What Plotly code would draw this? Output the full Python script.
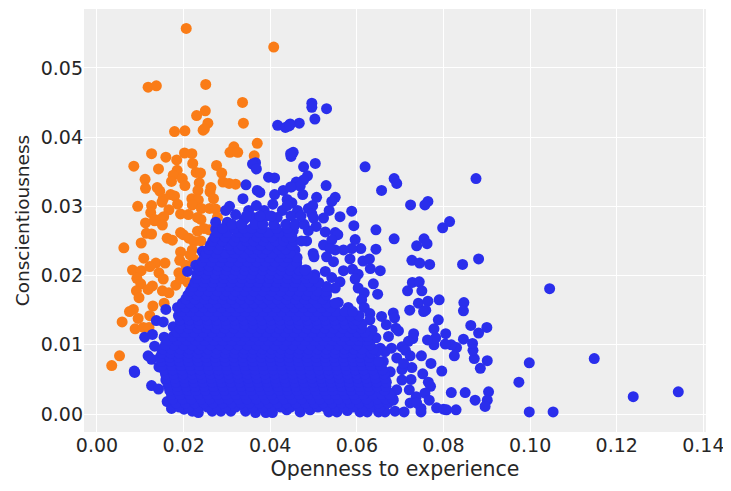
import plotly.graph_objects as go

orange_points = [
(.0206,.0557),(.0408,.0530),(.0118,.0472),(.0137,.0474),(.0251,.0476),(.0336,.0450),(.0250,.0438),(.0230,.0431),
(.0256,.0420),(.0245,.0410),(.0248,.0412),(.0338,.0420),(.0179,.0408),(.0203,.0409),(.0370,.0391),(.0316,.0386),(.0307,.0378),
(.0325,.0378),(.0363,.0373),(.0126,.0376),(.0159,.0371),(.0202,.0377),(.0219,.0376),(.0184,.0367),(.0221,.0362),
(.0085,.0358),(.0142,.0354),(.0185,.0352),(.0276,.0359),(.0288,.0348),(.0176,.0345),(.0172,.0336),(.0197,.0340),
(.0203,.0330),(.0229,.0349),(.0239,.0348),(.0236,.0334),(.0233,.0323),(.0111,.0339),(.0112,.0326),(.0139,.0327),
(.0145,.0322),(.0291,.0335),(.0305,.0333),(.0320,.0332),(.0263,.0327),(.0261,.0321),(.0269,.0311),(.0094,.0300),
(.0126,.0301),(.0124,.0291),(.0170,.0317),(.0179,.0315),(.0153,.0311),(.0150,.0306),(.0186,.0303),(.0166,.0295),
(.0219,.0311),(.0234,.0309),(.0220,.0302),(.0241,.0297),(.0260,.0297),(.0274,.0296),(.0193,.0289),(.0211,.0288),
(.0232,.0284),(.0240,.0281),(.0278,.0284),(.0154,.0285),(.0133,.0281),(.0146,.0281),(.0112,.0276),(.0133,.0279),
(.0151,.0273),(.0114,.0261),(.0126,.0260),(.0102,.0247),(.0062,.0240),(.0162,.0254),(.0174,.0251),(.0193,.0262),
(.0199,.0259),(.0212,.0254),(.0232,.0264),(.0247,.0268),(.0259,.0266),(.0224,.0249),(.0220,.0237),(.0193,.0234),
(.0191,.0222),(.0223,.0224),(.0108,.0225),(.0136,.0218),(.0157,.0218),(.0082,.0208),(.0102,.0207),(.0122,.0213),
(.0143,.0204),(.0153,.0195),(.0092,.0196),(.0101,.0188),(.0128,.0185),(.0118,.0180),(.0091,.0178),(.0097,.0168),
(.0151,.0178),(.0166,.0175),(.0182,.0186),(.0189,.0204),(.0197,.0203),(.0193,.0195),(.0155,.0160),(.0129,.0156),
(.0084,.0151),(.0075,.0148),(.0122,.0142),(.0095,.0138),(.0058,.0133),(.0088,.0123),(.0107,.0125),(.0052,.0084),
(.0034,.0070),(.0205,.0215),(.0215,.0230),(.0240,.0250),(.0210,.0190),(.0120,.0125),
]

blue_edge_points = [
(.0087,.0060),(.0086,.0062),(.0110,.0111),(.0128,.0115),(.0137,.0135),(.0153,.0133),(.0176,.0126),(.0118,.0084),(.0126,.0079),
(.0133,.0098),(.0155,.0111),(.0126,.0041),(.0142,.0036),(.0162,.0018),(.0172,.0008),(.0201,.0007),(.0220,.0004),(.0234,.0002),
(.0266,.0004),(.0286,.0004),(.0309,.0004),(.0343,.0004),(.0366,.0002),(.0390,.0002),(.0405,.0002),(.0438,.0006),(.0159,.0151),
(.0159,.0049),(.0143,.0068),(.0155,.0078),(.0274,.0267),(.0243,.0235),(.0228,.0215),(.0209,.0206),
(.0496,.0449),(.0496,.0443),(.0530,.0441),(.0503,.0426),(.0467,.0420),(.0446,.0419),(.0442,.0416),(.0453,.0378),(.0448,.0372),
(.0477,.0357),(.0504,.0362),(.0619,.0357),(.0486,.0344),(.0477,.0338),(.0460,.0335),(.0469,.0329),(.0449,.0328),(.0529,.0330),
(.0475,.0317),(.0507,.0313),(.0550,.0313),(.0542,.0307),(.0450,.0305),(.0463,.0294),(.0488,.0297),(.0498,.0301),(.0536,.0294),
(.0588,.0293),(.0561,.0285),(.0523,.0283),(.0496,.0289),(.0500,.0283),(.0506,.0271),(.0593,.0272),(.0644,.0266),(.0686,.0340),
(.0692,.0333),(.0657,.0323),(.0875,.0340),(.0724,.0302),(.0764,.0307),(.0757,.0302),(.0814,.0278),(.0798,.0269),
(.0453,.0265),(.0488,.0265),(.0527,.0263),(.0550,.0262),(.0556,.0259),(.0484,.0250),(.0596,.0252),(.0686,.0253),(.0523,.0244),
(.0542,.0251),(.0644,.0238),(.0609,.0239),(.0588,.0239),(.0569,.0237),(.0550,.0237),(.0538,.0239),(.0457,.0237),(.0453,.0232),
(.0499,.0232),(.0501,.0227),(.0530,.0227),(.0584,.0224),(.0614,.0221),(.0629,.0224),(.0631,.0210),(.0654,.0207),(.0546,.0220),
(.0569,.0207),(.0590,.0209),(.0603,.0202),(.0596,.0195),(.0461,.0218),(.0483,.0208),(.0477,.0195),(.0503,.0201),(.0527,.0206),
(.0542,.0197),(.0561,.0191),(.0550,.0182),(.0638,.0188),(.0603,.0182),(.0617,.0175),(.0648,.0173),(.0611,.0165),(.0557,.0161),
(.0580,.0154),(.0617,.0154),(.0630,.0145),(.0630,.0136),(.0657,.0141),(.0684,.0146),(.0687,.0139),(.0668,.0129),(.0690,.0124),
(.0696,.0120),(.0644,.0110),(.0673,.0112),(.0731,.0116),(.0729,.0109),(.0719,.0105),(.0704,.0097),(.0712,.0092),(.0723,.0084),
(.0749,.0084),(.0771,.0073),(.0796,.0062),(.0752,.0058),(.0727,.0067),(.0704,.0064),(.0725,.0050),(.0765,.0046),(.0770,.0040),
(.0721,.0035),(.0757,.0030),(.0737,.0025),(.0767,.0020),(.0723,.0016),(.0738,.0016),(.0748,.0008),(.0748,.0003),(.0784,.0009),
(.0800,.0007),(.0807,.0006),(.0829,.0006),(.0818,.0031),(.0850,.0031),(.0873,.0020),(.0904,.0032),(.0901,.0020),(.0896,.0011),
(.0885,.0066),(.0901,.0077),(.0871,.0080),(.0868,.0092),(.0867,.0102),(.0846,.0108),(.0830,.0096),(.0818,.0100),(.0804,.0101),
(.0825,.0084),(.0778,.0100),(.0782,.0110),(.0763,.0107),(.0778,.0123),(.0805,.0116),(.0788,.0136),(.0863,.0128),(.0900,.0125),
(.0881,.0117),(.0722,.0150),(.0742,.0160),(.0764,.0163),(.0759,.0150),(.0754,.0148),(.0790,.0165),(.0847,.0161),(.0846,.0149),
(.0717,.0178),(.0728,.0190),(.0744,.0191),(.0750,.0178),(.0727,.0222),(.0745,.0218),(.0768,.0216),(.0844,.0216),(.0881,.0224),
(.0738,.0243),(.0755,.0253),(.0762,.0246),
(.1238,.0025),(.1342,.0032),(.0998,.0003),(.1053,.0003),(.0974,.0046),(.0998,.0074),(.1045,.0181),(.1148,.0080),
(.0688,.0004),(.0709,.0003),(.0578,.0005),(.0607,.0003),(.0624,.0003),(.0650,.0003),(.0665,.0003),(.0469,.0003),(.0492,.0006),
(.0535,.0003),(.0554,.0003),(.0684,.0020),(.0692,.0035),(.0704,.0049),(.0677,.0061),(.0661,.0054),(.0657,.0028),(.0677,.0030),
(.0631,.0030),(.0607,.0018),(.0631,.0018),(.0657,.0013),(.0637,.0076),(.0615,.0064),(.0627,.0088),(.0654,.0095),(.0665,.0090),
(.0680,.0095),(.0661,.0076),(.0692,.0081),(.0708,.0073),(.0646,.0090),(.0619,.0095),(.0635,.0121),
(.0417,.0417),(.0435,.0414),(.0445,.0417),(.0366,.0363),(.0359,.0361),(.0368,.0354),(.0447,.0376),(.0396,.0342),(.0410,.0341),
(.0344,.0331),(.0370,.0323),(.0376,.0320),(.0410,.0317),(.0430,.0323),(.0447,.0328),(.0337,.0311),(.0406,.0303),(.0439,.0310),
(.0306,.0300),(.0297,.0294),(.0320,.0288),(.0350,.0294),(.0368,.0301),(.0386,.0294),(.0428,.0294),(.0439,.0301),(.0416,.0284),
(.0359,.0284),(.0390,.0286),(.0340,.0281),(.0301,.0277),(.0274,.0277),
]

blue_core_y = [.0010,.0016,.0022,.0028,.0034,.0040,.0046,.0052,.0058,.0064,.0070,.0076,.0082,.0088,.0094,.0100,.0106,.0112,.0118,.0124,
               .0130,.0136,.0142,.0148,.0154,.0160,.0166,.0172,.0178,.0184,.0190,.0196,.0202,.0208,.0214,.0220,.0226,.0232,.0238,.0244,.0250,.0256,.0262,.0268,.0274,.0286]
blue_core_x = [
[.0190,.0212,.0236,.0255,.0278,.0297,.0320,.0341,.0360,.0383,.0405,.0424,.0447,.0466,.0489,.0510,.0528,.0551,.0570,.0592,.0614,.0635,.0653],
[.0182,.0204,.0226,.0247,.0268,.0290,.0312,.0333,.0352,.0375,.0396,.0417,.0438,.0459,.0481,.0502,.0522,.0543,.0564,.0585,.0606,.0628,.0650,.0672],
[.0175,.0198,.0218,.0241,.0260,.0283,.0303,.0327,.0346,.0368,.0390,.0409,.0432,.0451,.0473,.0496,.0515,.0537,.0558,.0579,.0598,.0622,.0648,.0667,.0683],
[.0172,.0192,.0214,.0235,.0256,.0277,.0298,.0321,.0341,.0362,.0384,.0403,.0426,.0445,.0467,.0489,.0510,.0531,.0551,.0573,.0593,.0615,.0638,.0658,.0676],
[.0168,.0187,.0210,.0229,.0251,.0272,.0294,.0315,.0337,.0356,.0379,.0398,.0421,.0440,.0462,.0483,.0505,.0526,.0545,.0568,.0588,.0609,.0629,.0664],
[.0165,.0185,.0206,.0227,.0248,.0269,.0291,.0312,.0333,.0354,.0375,.0395,.0418,.0438,.0459,.0480,.0501,.0523,.0543,.0565,.0585,.0606,.0627,.0647,.0667],
[.0163,.0182,.0203,.0224,.0245,.0266,.0288,.0309,.0330,.0351,.0372,.0393,.0414,.0436,.0457,.0478,.0499,.0520,.0541,.0562,.0583,.0604,.0625,.0646,.0668],
[.0160,.0180,.0201,.0222,.0243,.0264,.0285,.0306,.0327,.0349,.0370,.0391,.0412,.0433,.0454,.0475,.0496,.0518,.0539,.0560,.0581,.0602,.0622,.0643,.0665],
[.0158,.0177,.0199,.0221,.0239,.0262,.0282,.0304,.0325,.0347,.0367,.0388,.0410,.0431,.0452,.0473,.0494,.0516,.0536,.0557,.0579,.0600,.0619,.0641,.0663],
[.0155,.0175,.0196,.0218,.0238,.0259,.0280,.0301,.0323,.0344,.0365,.0386,.0407,.0428,.0450,.0471,.0492,.0513,.0534,.0555,.0576,.0597,.0616,.0637,.0659],
[.0150,.0172,.0194,.0215,.0236,.0257,.0278,.0299,.0320,.0342,.0362,.0384,.0405,.0426,.0448,.0468,.0490,.0511,.0532,.0553,.0574,.0595,.0612,.0633,.0655],
[.0149,.0170,.0191,.0212,.0234,.0255,.0275,.0297,.0318,.0339,.0360,.0381,.0402,.0424,.0445,.0466,.0487,.0508,.0529,.0550,.0571,.0592,.0610,.0630,.0650],
[.0146,.0168,.0188,.0210,.0232,.0252,.0273,.0295,.0316,.0337,.0358,.0379,.0400,.0422,.0443,.0464,.0485,.0506,.0527,.0548,.0569,.0590,.0608,.0628],
[.0150,.0170,.0190,.0212,.0233,.0254,.0275,.0296,.0318,.0339,.0360,.0381,.0402,.0423,.0445,.0466,.0487,.0508,.0529,.0550,.0571,.0592,.0610,.0633],
[.0152,.0171,.0192,.0213,.0235,.0256,.0277,.0298,.0319,.0340,.0361,.0382,.0403,.0425,.0446,.0467,.0488,.0509,.0530,.0551,.0572,.0593,.0612,.0638],
[.0158,.0178,.0200,.0221,.0242,.0263,.0284,.0305,.0326,.0347,.0368,.0389,.0411,.0432,.0453,.0474,.0495,.0516,.0537,.0558,.0579,.0600,.0630],
[.0163,.0186,.0207,.0228,.0249,.0270,.0291,.0312,.0333,.0354,.0375,.0396,.0418,.0439,.0460,.0481,.0502,.0523,.0544,.0565,.0586,.0605,.0624],
[.0176,.0196,.0216,.0237,.0258,.0279,.0300,.0321,.0342,.0363,.0384,.0405,.0426,.0447,.0468,.0489,.0510,.0531,.0552,.0573,.0594,.0612,.0625],
[.0185,.0202,.0223,.0245,.0266,.0287,.0308,.0329,.0350,.0371,.0392,.0413,.0434,.0455,.0476,.0498,.0519,.0540,.0561,.0582,.0601,.0618],
[.0192,.0211,.0232,.0253,.0274,.0295,.0316,.0337,.0358,.0379,.0400,.0421,.0442,.0463,.0484,.0505,.0526,.0547,.0568,.0589,.0610],
[.0195,.0214,.0236,.0257,.0278,.0299,.0320,.0341,.0362,.0383,.0404,.0425,.0446,.0467,.0489,.0510,.0531,.0552,.0573,.0594,.0612],
[.0192,.0213,.0234,.0255,.0276,.0297,.0318,.0339,.0360,.0381,.0402,.0423,.0444,.0465,.0486,.0507,.0528,.0549,.0570,.0591,.0600],
[.0188,.0208,.0229,.0250,.0271,.0292,.0313,.0334,.0355,.0376,.0397,.0418,.0439,.0460,.0481,.0502,.0523,.0544,.0565,.0586,.0605],
[.0195,.0216,.0237,.0258,.0279,.0300,.0321,.0342,.0363,.0384,.0405,.0426,.0447,.0468,.0489,.0510,.0531,.0552,.0573,.0590],
[.0186,.0204,.0225,.0246,.0267,.0288,.0309,.0330,.0351,.0372,.0393,.0414,.0435,.0456,.0477,.0498,.0519,.0540],
[.0197,.0215,.0236,.0257,.0278,.0299,.0320,.0341,.0362,.0383,.0404,.0425,.0446,.0467,.0488,.0509,.0530,.0550],
[.0205,.0226,.0248,.0269,.0290,.0311,.0332,.0353,.0374,.0395,.0416,.0437,.0458,.0479,.0500,.0521],
[.0210,.0231,.0252,.0273,.0294,.0315,.0336,.0357,.0378,.0399,.0420,.0441,.0462,.0483,.0504,.0530],
[.0216,.0236,.0257,.0278,.0299,.0320,.0341,.0362,.0383,.0404,.0425,.0446,.0467,.0488,.0509,.0530],
[.0222,.0243,.0264,.0285,.0306,.0327,.0348,.0369,.0390,.0411,.0432,.0453,.0474,.0495,.0530],
[.0226,.0247,.0268,.0289,.0310,.0331,.0352,.0373,.0394,.0415,.0436,.0457,.0488,.0512],
[.0230,.0251,.0272,.0293,.0314,.0335,.0356,.0377,.0398,.0419,.0440,.0461,.0482,.0500],
[.0231,.0252,.0273,.0294,.0315,.0336,.0357,.0378,.0399,.0420,.0441,.0462,.0486],
[.0236,.0257,.0278,.0299,.0320,.0341,.0362,.0383,.0404,.0425,.0446,.0467,.0480],
[.0238,.0259,.0280,.0301,.0322,.0343,.0364,.0385,.0406,.0427,.0448],
[.0243,.0264,.0285,.0306,.0327,.0348,.0369,.0390,.0411,.0432,.0460],
[.0248,.0270,.0291,.0312,.0335,.0356,.0377,.0399,.0422,.0441,.0462],
[.0252,.0275,.0296,.0318,.0340,.0362,.0382,.0405,.0428,.0445],
[.0258,.0279,.0310,.0328,.0352,.0371,.0392,.0418,.0436],
[.0262,.0285,.0304,.0335,.0358,.0378,.0400,.0425,.0450],
[.0267,.0290,.0316,.0345,.0362,.0384,.0412,.0431,.0454,.0472],
[.0272,.0296,.0322,.0340,.0369,.0390,.0404,.0437,.0450],
[.0278,.0301,.0327,.0349,.0376,.0395,.0421,.0443],
[.0290,.0318,.0338,.0358,.0380,.0414,.0440],
[.0312,.0333,.0365,.0383,.0408,.0436,.0458,.0478],
[.0345,.0376,.0402,.0448,.0471],
]

x_ticks = [0.00, 0.02, 0.04, 0.06, 0.08, 0.10, 0.12, 0.14]
y_ticks = [0.00, 0.01, 0.02, 0.03, 0.04, 0.05]
x_label = "Openness to experience"
y_label = "Conscientiousness"

BLUE = "#2a2eec"
ORANGE = "#fa7c17"
INK = "#262626"

blue_x = [p[0] for p in blue_edge_points]
blue_y = [p[1] for p in blue_edge_points]
for yv, row in zip(blue_core_y, blue_core_x):
    blue_x += row
    blue_y += [yv] * len(row)

fig = go.Figure()
fig.add_trace(go.Scatter(x=[p[0] for p in orange_points], y=[p[1] for p in orange_points], mode="markers",
                         marker=dict(color=ORANGE, size=11, line=dict(width=0)), showlegend=False))
fig.add_trace(go.Scatter(x=blue_x, y=blue_y, mode="markers",
                         marker=dict(color=BLUE, size=11, line=dict(width=0)), showlegend=False))

axis = dict(showgrid=True, gridcolor="white", gridwidth=1, zeroline=False, showline=False, ticks="",
            tickformat=".2f", tickfont=dict(size=19, color=INK))
fig.update_layout(
    width=723, height=483, margin=dict(l=76, r=25, t=1, b=59),
    paper_bgcolor="white", plot_bgcolor="#eeeeee",
    font=dict(family="DejaVu Sans", color=INK),
    xaxis=dict(axis, range=[-0.003, 0.1406], tickvals=x_ticks,
               title=dict(text=x_label, standoff=6, font=dict(size=20.5, color=INK))),
    yaxis=dict(axis, range=[-0.0026, 0.0585], tickvals=y_ticks,
               title=dict(text=y_label, standoff=6, font=dict(size=18.5, color=INK))),
)
fig.write_html("out.html", config=dict(displayModeBar=False))
